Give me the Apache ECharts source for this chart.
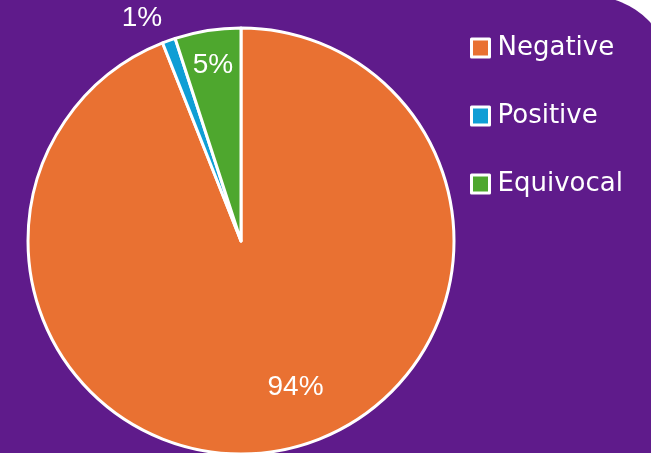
<!DOCTYPE html>
<html>
<head>
<meta charset="utf-8">
<script src="https://cdn.jsdelivr.net/npm/echarts@6/dist/echarts.min.js"></script>
<style>
  html, body { margin: 0; padding: 0; background: #fff; }
  #wrap { position: relative; width: 651px; height: 453px; overflow: hidden; }
  #bg {
    position: absolute; left: 0; top: -4px; width: 672px; height: 480px;
    background: #5F1B8B; border-top-right-radius: 82px;
  }
  #chart { position: absolute; left: 0; top: 0; width: 651px; height: 453px; }
</style>
</head>
<body>
<div id="wrap">
  <div id="bg"></div>
  <div id="chart"></div>
</div>
<script>
const categories = ['Negative', 'Positive', 'Equivocal'];
const values = [94, 1, 5];
const colors = ['#E97132', '#0F9ED5', '#4EA72E'];
// label nudges so they sit where the original puts them
const labelOffsets = [[34, 39], [-62, -120], [-11, -68]];

const chart = echarts.init(document.getElementById('chart'));

const option = {
  animation: false,
  legend: {
    orient: 'vertical',
    left: 470,
    top: 35,
    padding: 0,
    itemWidth: 18,
    itemHeight: 18,
    itemGap: 42,
    icon: 'rect',
    data: categories,
    itemStyle: { borderColor: '#fff', borderWidth: 3 },
    textStyle: {
      color: '#fff',
      fontSize: 26,
      lineHeight: 26,
      fontFamily: 'DejaVu Sans',
      padding: [0, 0, 0, 3]
    }
  },
  series: [{
    type: 'pie',
    center: [241, 241],
    radius: [0, 213],
    startAngle: 90,
    clockwise: true,
    avoidLabelOverlap: false,
    itemStyle: { borderColor: '#fff', borderWidth: 3 },
    label: {
      show: true,
      position: 'inside',
      formatter: '{c}%',
      color: '#fff',
      fontSize: 28,
      fontFamily: 'Liberation Sans'
    },
    labelLine: { show: false },
    emphasis: { disabled: true },
    data: categories.map((name, i) => ({
      name: name,
      value: values[i],
      itemStyle: { color: colors[i] },
      label: { offset: labelOffsets[i] }
    }))
  }]
};

chart.setOption(option);
</script>
</body>
</html>
